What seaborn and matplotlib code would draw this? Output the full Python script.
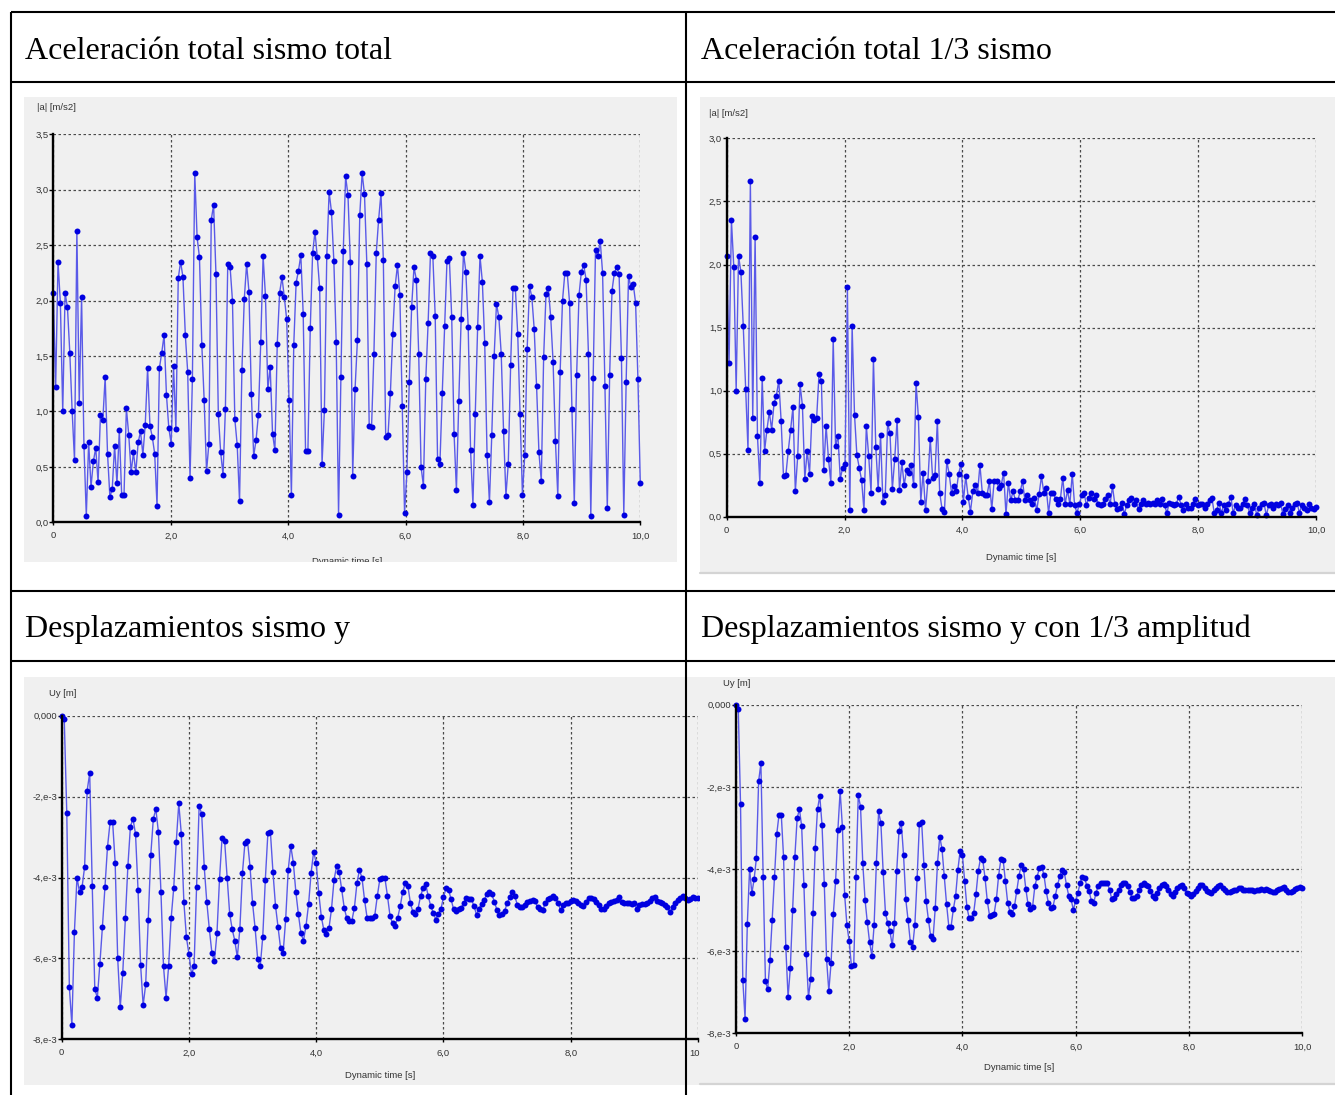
import numpy as np
import matplotlib
matplotlib.use("Agg")
import matplotlib.pyplot as plt
import seaborn as sns
from matplotlib.lines import Line2D
from matplotlib.patches import Rectangle

# ---------------- data ----------------
# Panel 1: |a| [m/s2], full earthquake
acc_full = [
    2.07, 1.22, 2.35, 1.98, 1.0, 2.07, 1.94, 1.53, 1.0, 0.56,
    2.63, 1.08, 2.03, 0.69, 0.06, 0.72, 0.32, 0.55, 0.67, 0.36,
    0.97, 0.92, 1.31, 0.62, 0.23, 0.30, 0.69, 0.35, 0.83, 0.25,
    0.25, 1.03, 0.79, 0.45, 0.63, 0.45, 0.72, 0.82, 0.61, 0.88,
    1.39, 0.87, 0.77, 0.62, 0.15, 1.39, 1.53, 1.69, 1.15,
    0.85, 0.71, 1.41, 0.84, 2.2, 2.35, 2.21, 1.69, 1.36, 0.4,
    1.29, 3.15, 2.57, 2.39, 1.6, 1.1, 0.46, 0.71, 2.73, 2.86,
    2.24, 0.98, 0.63, 0.43, 1.02, 2.33, 2.3, 2.0, 0.93, 0.7,
    0.19, 1.37, 2.01, 2.33, 2.08, 1.16, 0.6, 0.74, 0.97, 1.63,
    2.4, 2.04, 1.2, 1.4, 0.8, 0.65, 1.61, 2.07, 2.21, 2.03,
    1.83, 1.1, 0.25, 1.6, 2.16, 2.27, 2.41, 1.88, 0.64, 0.64,
    1.75, 2.43, 2.62, 2.39, 2.11, 0.53, 1.01, 2.4, 2.98, 2.8,
    2.36, 1.63, 0.07, 1.31, 2.45, 3.12, 2.95,
    2.35, 0.42, 1.2, 1.64, 2.77, 3.15, 2.96, 2.33, 0.87, 0.86,
    1.52, 2.43, 2.73, 2.97, 2.37, 0.77, 0.79, 1.17, 1.7, 2.13,
    2.32, 2.05, 1.05, 0.08, 0.45, 1.27, 1.94, 2.3, 2.19, 1.52,
    0.5, 0.33, 1.29, 1.8, 2.43, 2.4, 1.86, 0.57, 0.53, 1.17,
    1.77, 2.36, 2.38, 1.85, 0.8, 0.29, 1.09, 1.83, 2.43, 2.26,
    1.76, 0.65, 0.16, 0.98, 1.76, 2.4, 2.17, 1.62, 0.61, 0.18,
    0.79, 1.5, 1.97, 1.85, 1.52, 0.82, 0.24, 0.53, 1.42, 2.11,
    2.11, 1.7, 0.98, 0.25, 0.61, 1.56, 2.13, 2.03, 1.74, 1.23,
    0.63, 0.37, 1.49, 2.06, 2.11, 1.85, 1.45, 0.73, 0.24, 1.36,
    2.0, 2.25, 2.25, 1.98, 1.02, 0.17, 1.33, 2.05, 2.26, 2.32,
    2.19, 1.52, 0.06, 1.3, 2.46, 2.4, 2.54, 2.25, 1.23, 0.13,
    1.33, 2.09, 2.25, 2.3, 2.24, 1.48, 0.07, 1.27, 2.22, 2.12,
    2.15, 1.98, 1.29, 0.35,
]

# Panel 2: |a| [m/s2], 1/3 earthquake
acc_third = [
    2.07, 1.22, 2.35, 1.98, 1.0, 2.07, 1.94, 1.51, 1.01, 0.53,
    2.66, 0.78, 2.22, 0.64, 0.27, 1.1, 0.52, 0.69, 0.83, 0.69,
    0.9, 0.96, 1.08, 0.76, 0.32, 0.33, 0.52, 0.69, 0.87, 0.2,
    0.48, 1.05, 0.88, 0.3, 0.52, 0.34, 0.8, 0.77, 0.78, 1.13,
    1.08, 0.37, 0.72, 0.46, 0.27, 1.41, 0.56, 0.64, 0.3, 0.39,
    0.42, 1.82, 0.05, 1.51, 0.81, 0.49, 0.39, 0.29, 0.05, 0.72,
    0.48, 0.19, 1.25, 0.55, 0.22, 0.65, 0.12, 0.17, 0.74, 0.66,
    0.22, 0.46, 0.77, 0.21, 0.43, 0.25, 0.37, 0.35, 0.41, 0.25,
    1.06, 0.79, 0.12, 0.35, 0.05, 0.28, 0.62, 0.31, 0.33, 0.76,
    0.19, 0.06, 0.04, 0.44, 0.34, 0.19, 0.24, 0.2, 0.34, 0.42,
    0.12, 0.32, 0.16, 0.04, 0.2, 0.25, 0.19, 0.41, 0.19, 0.17,
    0.17, 0.28, 0.06, 0.28, 0.28, 0.23, 0.25, 0.35, 0.02, 0.27,
    0.13, 0.2, 0.13, 0.13, 0.2, 0.28,
    0.13, 0.17, 0.13, 0.1, 0.15, 0.05, 0.18, 0.32, 0.19, 0.23,
    0.03, 0.19, 0.19, 0.14, 0.1, 0.14, 0.31, 0.1, 0.21, 0.1,
    0.34, 0.09, 0.03, 0.1, 0.17, 0.19, 0.09, 0.15, 0.19, 0.14,
    0.17, 0.1, 0.09, 0.1, 0.14, 0.17, 0.1, 0.24, 0.1, 0.06,
    0.07, 0.11, 0.02, 0.09, 0.13, 0.15, 0.1, 0.13, 0.06, 0.1,
    0.13, 0.1, 0.11, 0.1, 0.11, 0.1, 0.13, 0.1, 0.14, 0.09,
    0.03, 0.11, 0.1, 0.09, 0.1, 0.16, 0.09, 0.05, 0.1, 0.07,
    0.07, 0.1, 0.14, 0.09, 0.1, 0.1, 0.07, 0.1, 0.13, 0.15,
    0.03, 0.05, 0.11, 0.03, 0.09, 0.05, 0.1, 0.16, 0.03, 0.09,
    0.07, 0.07, 0.1, 0.14, 0.09, 0.03, 0.07, 0.1, 0.01, 0.07,
    0.1, 0.11, 0.01, 0.09, 0.1, 0.07, 0.1, 0.09, 0.11, 0.02,
    0.06, 0.09, 0.03, 0.07, 0.1, 0.11, 0.03, 0.09, 0.07, 0.05,
    0.1, 0.07, 0.06, 0.08,
]

# Panel 3: Uy [1e-3 m], earthquake in y
uy_full_e3 = [
    0.0, -0.09, -2.41, -6.71, -7.65, -5.34, -4.0, -4.36, -4.24, -3.74,
    -1.85, -1.42, -4.2, -6.75, -6.98, -6.13, -5.22, -4.23, -3.24, -2.64,
    -2.62, -3.63, -6.0, -7.21, -6.35, -5.01, -3.72, -2.74, -2.55, -2.92,
    -4.32, -6.16, -7.16, -6.64, -5.04, -3.44, -2.55, -2.31, -2.88, -4.37,
    -6.2, -6.97, -6.2, -5.01, -4.27, -3.13, -2.17, -2.93, -4.61, -5.48,
    -5.89, -6.39, -6.2, -4.23, -2.23, -2.43, -3.74, -4.6, -5.27, -5.86,
    -6.06, -5.38, -4.04, -3.02, -3.09, -4.0, -4.9, -5.28, -5.56, -5.97,
    -5.27, -3.9, -3.14, -3.09, -3.74, -4.64, -5.26, -6.02, -6.2, -5.46,
    -4.06, -2.91, -2.88, -3.86, -4.7, -5.23, -5.75, -5.86, -5.03, -3.81,
    -3.22, -3.63, -4.36, -4.91, -5.38, -5.56, -5.19, -4.66, -3.88, -3.36,
    -3.65, -4.39, -4.97, -5.3, -5.4, -5.26, -4.78, -4.06, -3.72, -3.86,
    -4.29, -4.75, -5.01, -5.07, -5.07, -4.75, -4.14, -3.81,
    -4.02, -4.56, -5.0, -5.0, -5.0, -4.94, -4.46, -4.04, -4.0, -4.02,
    -4.46, -4.95, -5.13, -5.19, -5.0, -4.71, -4.35, -4.14, -4.2, -4.63,
    -4.86, -4.9, -4.77, -4.46, -4.26, -4.16, -4.46, -4.71, -4.87, -5.04,
    -4.9, -4.78, -4.49, -4.26, -4.3, -4.54, -4.79, -4.83, -4.77, -4.75,
    -4.62, -4.51, -4.53, -4.54, -4.71, -4.92, -4.77, -4.65, -4.55, -4.42,
    -4.37, -4.42, -4.6, -4.8, -4.92, -4.9, -4.83, -4.64, -4.49, -4.35,
    -4.46, -4.67, -4.73, -4.73, -4.67, -4.6, -4.57, -4.55, -4.59, -4.73,
    -4.78, -4.81, -4.63, -4.54, -4.5, -4.46, -4.5, -4.62, -4.81, -4.67,
    -4.64, -4.62, -4.57, -4.55, -4.59, -4.62, -4.67, -4.71, -4.6, -4.5,
    -4.5, -4.54, -4.6, -4.67, -4.77, -4.79, -4.71, -4.64, -4.6, -4.57,
    -4.55, -4.48, -4.6, -4.64, -4.62, -4.62, -4.65, -4.64, -4.77, -4.67,
    -4.65, -4.66, -4.64, -4.59, -4.5, -4.48, -4.59, -4.6, -4.62, -4.67,
    -4.73, -4.86, -4.73, -4.62, -4.55, -4.5, -4.45, -4.5, -4.55, -4.52,
    -4.48, -4.5, -4.5,
]

# Panel 4: Uy [1e-3 m], earthquake in y with 1/3 amplitude
uy_third_e3 = [
    0.0, -0.1, -2.42, -6.7, -7.65, -5.34, -4.0, -4.59, -4.25, -3.74,
    -1.86, -1.43, -4.2, -6.73, -6.93, -6.22, -5.23, -4.2, -3.15, -2.68,
    -2.68, -3.7, -5.9, -7.12, -6.41, -5.01, -3.7, -2.77, -2.54, -2.96,
    -4.4, -6.07, -7.12, -6.67, -5.07, -3.48, -2.55, -2.22, -2.93, -4.37,
    -6.2, -6.97, -6.28, -5.09, -4.29, -3.05, -2.1, -2.98, -4.64, -5.37,
    -5.76, -6.37, -6.34, -4.2, -2.21, -2.48, -3.86, -4.75, -5.3, -5.78,
    -6.11, -5.37, -3.86, -2.6, -2.89, -4.07, -5.06, -5.32, -5.52, -5.86,
    -5.32, -4.04, -3.07, -2.87, -3.66, -4.74, -5.24, -5.77, -5.9, -5.36,
    -4.22, -2.9, -2.85, -3.9, -4.79, -5.24, -5.64, -5.71, -4.96, -3.86,
    -3.21, -3.52, -4.17, -4.85, -5.4, -5.4, -4.98, -4.66, -4.02, -3.56,
    -3.66, -4.28, -4.93, -5.2, -5.2, -5.06, -4.61, -4.05, -3.74, -3.78,
    -4.22, -4.78, -5.14, -5.12, -5.09, -4.74, -4.16, -3.76, -3.78, -4.29,
    -4.82, -5.04, -5.09, -4.91, -4.53, -4.16, -3.9, -4.0, -4.48, -4.86,
    -4.98,
    -4.92, -4.42, -4.19, -3.98, -3.94, -4.14, -4.54, -4.83, -4.95, -4.92,
    -4.66, -4.4, -4.18, -4.02, -4.08, -4.4, -4.66, -4.74, -4.99, -4.79,
    -4.58, -4.34, -4.19, -4.22, -4.42, -4.54, -4.79, -4.83, -4.58, -4.42,
    -4.34, -4.34, -4.34, -4.34, -4.5, -4.74, -4.7, -4.6, -4.5, -4.38,
    -4.34, -4.34, -4.42, -4.57, -4.7, -4.7, -4.66, -4.5, -4.38, -4.34,
    -4.38, -4.42, -4.54, -4.66, -4.7, -4.58, -4.46, -4.38, -4.36, -4.42,
    -4.5, -4.6, -4.66, -4.57, -4.46, -4.42, -4.38, -4.46, -4.58, -4.6,
    -4.66, -4.62, -4.54, -4.46, -4.38, -4.38, -4.46, -4.54, -4.57, -4.58,
    -4.52, -4.46, -4.42, -4.4, -4.46, -4.52, -4.57, -4.57, -4.54, -4.5,
    -4.5, -4.47, -4.46, -4.5, -4.5, -4.5, -4.52, -4.5, -4.54, -4.5,
    -4.5, -4.49, -4.5, -4.49, -4.52, -4.54, -4.57, -4.57, -4.52, -4.49,
    -4.46, -4.44, -4.5, -4.57, -4.57, -4.54, -4.49, -4.46, -4.44, -4.46,
]

titles = ["Aceleración total sismo total", "Aceleración total 1/3 sismo",
          "Desplazamientos sismo y", "Desplazamientos sismo y con 1/3 amplitud"]
x_ticks = [0, 2, 4, 6, 8, 10]
x_tick_labels = ["0", "2,0", "4,0", "6,0", "8,0", "10,0"]
acc_ticks_full = [0.0, 0.5, 1.0, 1.5, 2.0, 2.5, 3.0, 3.5]
acc_ticks_third = [0.0, 0.5, 1.0, 1.5, 2.0, 2.5, 3.0]
uy_ticks = [-8e-3, -6e-3, -4e-3, -2e-3, 0.0]
uy_tick_labels = ["-8,e-3", "-6,e-3", "-4,e-3", "-2,e-3", "0,000"]
t_end = 10.0

# ---------------- figure ----------------
sns.set_theme(style="white")
plt.rcParams["font.family"] = ["Liberation Sans Narrow", "Liberation Sans", "DejaVu Sans"]

W, H = 1335, 1095
fig = plt.figure(figsize=(W / 100, H / 100), dpi=100)
fig.patch.set_facecolor("white")


def fx(x):
    return x / W


def fy(y):
    return 1 - y / H


LINE = "#5a5ae8"
MARK = "#0000e0"
BG = "#f0f0f0"
TICKC = "#333333"
SMALL = 6.8


def add_bg(x0, y0, x1, y1, z):
    fig.patches.append(Rectangle((fx(x0), fy(y1)), (x1 - x0) / W, (y1 - y0) / H,
                                 transform=fig.transFigure, facecolor=BG,
                                 edgecolor="none", zorder=z))


def add_panel(box, yvals, ylim, yticks, ylabels, z):
    l, t, r, b = box
    ax = fig.add_axes([fx(l), fy(b), (r - l) / W, (b - t) / H], zorder=z)
    ax.set_facecolor("none")
    tt = np.linspace(0, t_end, len(yvals))
    sns.lineplot(x=tt, y=yvals, ax=ax, color=LINE, linewidth=1.0, marker="o",
                 markersize=4.3, markerfacecolor=MARK, markeredgecolor=MARK,
                 markeredgewidth=0, errorbar=None, clip_on=False)
    ax.set_xlim(0, t_end)
    ax.set_ylim(*ylim)
    ax.set_xticks(x_ticks)
    ax.set_xticklabels(x_tick_labels)
    ax.set_yticks(yticks)
    ax.set_yticklabels(ylabels)
    ax.set_xlabel("")
    ax.set_ylabel("")
    ax.grid(True, color="#4a4a4a", linestyle=(0, (2, 2)), linewidth=0.9)
    ax.set_axisbelow(True)
    for s in ("top", "right"):
        ax.spines[s].set_visible(False)
    for s in ("left", "bottom"):
        ax.spines[s].set_color("black")
        ax.spines[s].set_linewidth(1.7)
        ax.spines[s].set_zorder(3)
    ax.tick_params(axis="y", direction="out", length=2.8, width=1, color="black",
                   labelsize=SMALL, labelcolor=TICKC, pad=0.5, left=True)
    ax.tick_params(axis="x", direction="out", length=2.5, width=1, color="black",
                   labelsize=SMALL, labelcolor=TICKC, pad=4, bottom=True)
    return ax


# backgrounds
add_bg(24, 97, 677, 562, 0.1)
add_bg(700, 97, 1335, 572, 0.1)
add_bg(24, 677, 700, 1085, 0.1)
add_bg(700, 677, 1335, 1083, 0.7)

acc_full_lbl = [f"{v:.1f}".replace(".", ",") for v in acc_ticks_full]
acc_third_lbl = [f"{v:.1f}".replace(".", ",") for v in acc_ticks_third]

add_panel((53.3, 134.3, 640.3, 522.3), acc_full, (0, 3.5), acc_ticks_full, acc_full_lbl, 1)
add_panel((726.7, 138.4, 1316, 516.7), acc_third, (0, 3.0), acc_ticks_third, acc_third_lbl, 1)
add_panel((61.7, 715.7, 698, 1039.3), np.array(uy_full_e3) * 1e-3, (-8e-3, 0.0),
          uy_ticks, uy_tick_labels, 0.5)
add_panel((736, 704.7, 1302, 1033.3), np.array(uy_third_e3) * 1e-3, (-8e-3, 0.0),
          uy_ticks, uy_tick_labels, 1)

# axis captions
cap = dict(fontsize=SMALL, color=TICKC, zorder=2)
fig.text(fx(37), fy(108), "|a| [m/s2]", ha="left", va="center", **cap)
fig.text(fx(709), fy(114), "|a| [m/s2]", ha="left", va="center", **cap)
fig.text(fx(49), fy(694), "Uy [m]", ha="left", va="center", **cap)
fig.text(fx(723), fy(684), "Uy [m]", ha="left", va="center", **cap)
fig.text(fx(347), fy(562), "Dynamic time [s]", ha="center", va="center", **cap)
fig.text(fx(1021), fy(557), "Dynamic time [s]", ha="center", va="center", **cap)
fig.text(fx(380), fy(1075), "Dynamic time [s]", ha="center", va="center", **cap)
fig.text(fx(1019), fy(1068), "Dynamic time [s]", ha="center", va="center", **cap)

# white strip cutting the first caption (image crop)
fig.patches.append(Rectangle((fx(20), fy(589)), 660 / W, 27 / H, transform=fig.transFigure,
                             facecolor="white", edgecolor="none", zorder=3))
# light border under right-hand images
fig.add_artist(Line2D([fx(700), fx(1335)], [fy(573), fy(573)], color="#d4d4d4", lw=1.6, zorder=2))
fig.add_artist(Line2D([fx(700), fx(1335)], [fy(1084), fy(1084)], color="#d4d4d4", lw=1.6, zorder=2))

# table lines
TL = dict(color="black", lw=1.5, zorder=6, solid_capstyle="butt")
for yy in (12, 82, 591, 661):
    fig.add_artist(Line2D([fx(10.5), fx(1335)], [fy(yy), fy(yy)], **TL))
for xx in (11, 686):
    fig.add_artist(Line2D([fx(xx), fx(xx)], [fy(11.5), fy(1095)], **TL))

# cell titles
tkw = dict(fontsize=23, family=["Liberation Serif", "DejaVu Serif"], color="black",
           ha="left", va="baseline", zorder=7)
fig.text(fx(25), fy(59), titles[0], **tkw)
fig.text(fx(701), fy(59), titles[1], **tkw)
fig.text(fx(25), fy(637), titles[2], **tkw)
fig.text(fx(701), fy(637), titles[3], **tkw)

fig.savefig("out.png", dpi=100, facecolor="white")
